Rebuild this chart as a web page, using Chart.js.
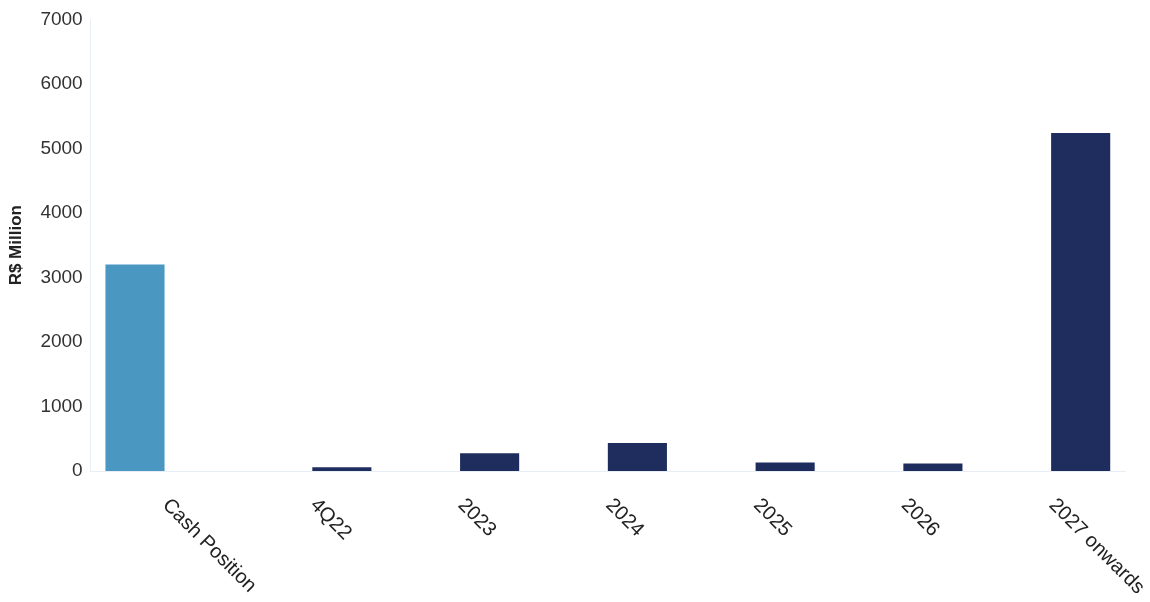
<!DOCTYPE html>
<html>
<head>
<meta charset="utf-8">
<script src="https://cdn.jsdelivr.net/npm/chart.js@4"></script>
<style>
  body { margin: 0; background: #fff; }
</style>
</head>
<body>
<canvas id="myChart" width="1150" height="602"></canvas>
<script>
const categories = ['Cash Position', '4Q22', '2023', '2024', '2025', '2026', '2027 onwards'];
const cashValues = [3200, null, null, null, null, null, null];
const debtValues = [null, 60, 275, 435, 130, 115, 5240];
const yTicks = [0, 1000, 2000, 3000, 4000, 5000, 6000, 7000];

// x labels run down-right, so they are drawn by hand under each category
const slantLabels = {
  id: 'slantLabels',
  afterDraw(chart) {
    const c = chart.ctx;
    const x = chart.scales.x;
    c.save();
    c.font = '20px "Liberation Sans", Arial, sans-serif';
    c.fillStyle = '#222';
    c.textAlign = 'left';
    c.textBaseline = 'middle';
    categories.forEach((lab, i) => {
      c.save();
      c.translate(x.getPixelForValue(i) + 1, chart.chartArea.bottom + 31);
      c.rotate(Math.PI / 4);
      c.fillText(lab, 0, 0);
      c.restore();
    });
    c.restore();
  }
};

const ctx = document.getElementById('myChart');

new Chart(ctx, {
  type: 'bar',
  data: {
    labels: categories,
    datasets: [{
      label: 'Cash',
      data: cashValues,
      backgroundColor: '#4a97c2',
      barPercentage: 1,
      categoryPercentage: 0.8
    }, {
      label: 'Debt',
      data: debtValues,
      backgroundColor: '#1e2d5e',
      barPercentage: 1,
      categoryPercentage: 0.8
    }]
  },
  options: {
    responsive: false,
    animation: false,
    layout: {
      padding: { left: 6, right: 25, top: 8, bottom: 131 }
    },
    plugins: {
      legend: { display: false },
      tooltip: { enabled: false }
    },
    scales: {
      x: {
        grid: { display: false, drawTicks: false },
        border: { color: '#e8eef5' },
        ticks: { display: false }
      },
      y: {
        min: 0,
        max: 7000,
        afterBuildTicks: (axis) => { axis.ticks = yTicks.map(v => ({ value: v })); },
        grid: { display: false, drawTicks: false },
        border: { color: '#e8eef5' },
        ticks: {
          color: '#333',
          padding: 8,
          callback: (v) => String(v),
          font: { family: '"Liberation Sans", Arial, sans-serif', size: 19 }
        },
        title: {
          display: true,
          text: 'R$ Million',
          color: '#222',
          padding: { top: 0, bottom: 6 },
          font: { family: '"Liberation Sans", Arial, sans-serif', size: 17, weight: 'bold' }
        }
      }
    }
  },
  plugins: [slantLabels]
});
</script>
</body>
</html>
